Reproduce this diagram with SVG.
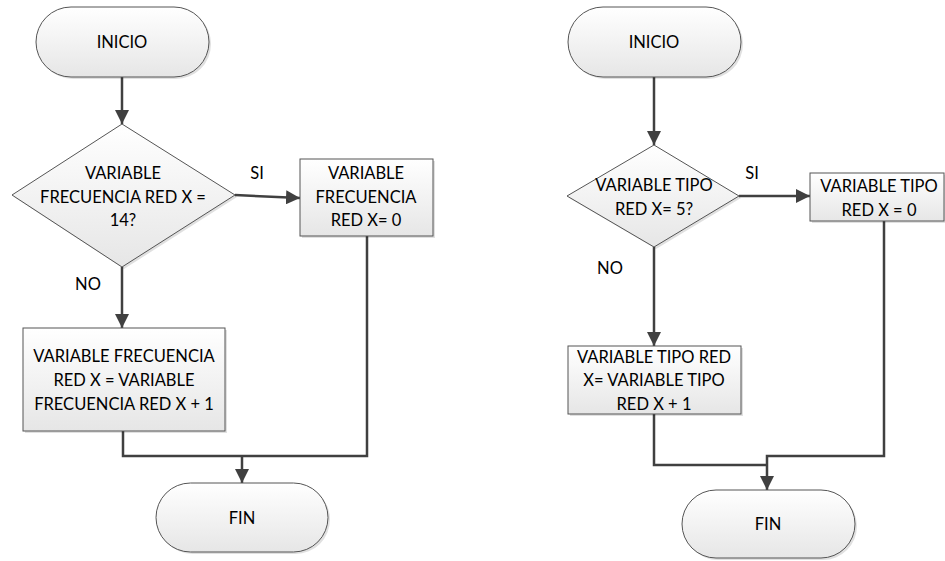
<svg xmlns="http://www.w3.org/2000/svg" width="945" height="561" viewBox="0 0 945 561">
<style>
.sh{fill:#000;opacity:0.12}
.nd{fill:url(#g);stroke:#555;stroke-width:1}
.t{font-family:Lato,"Open Sans",sans-serif;font-size:16.5px;fill:#000;text-anchor:middle;dominant-baseline:central}
.c{fill:none;stroke:#404040;stroke-width:2.5}
</style>
<defs>
<linearGradient id="g" x1="0" y1="0" x2="0" y2="1">
<stop offset="0" stop-color="#ffffff"/>
<stop offset="1" stop-color="#e6e6e6"/>
</linearGradient>
<marker id="ah" viewBox="0 0 14 14" refX="14" refY="7" markerWidth="14" markerHeight="14" markerUnits="userSpaceOnUse" orient="auto">
<path d="M0,0 L14,7 L0,14 Z" fill="#404040"/>
</marker>
</defs>
<rect width="945" height="561" fill="#fff"/>
<g id="connectors">
<line class="c" x1="122" y1="77" x2="122" y2="124" marker-end="url(#ah)"/>
<line class="c" x1="235" y1="195" x2="300" y2="198" marker-end="url(#ah)"/>
<line class="c" x1="122" y1="267" x2="122" y2="328" marker-end="url(#ah)"/>
<polyline class="c" points="123,431 123,456 367,456 367,236"/>
<line class="c" x1="242" y1="456" x2="242" y2="483" marker-end="url(#ah)"/>
<line class="c" x1="654" y1="77" x2="654" y2="145" marker-end="url(#ah)"/>
<line class="c" x1="739" y1="196" x2="810" y2="196" marker-end="url(#ah)"/>
<line class="c" x1="654" y1="247" x2="654" y2="346" marker-end="url(#ah)"/>
<polyline class="c" points="654,414 654,465 768,465"/>
<polyline class="c" points="884,221 884,456 767,456 767,490" marker-end="url(#ah)"/>
</g>
<g id="l_inicio">
<rect class="sh" x="38" y="9" width="173" height="70" rx="35"/>
<rect class="nd" x="36" y="7" width="173" height="70" rx="35"/>
<text class="t" x="122" y="42">INICIO</text>
</g>
<g id="l_decision">
<polygon class="sh" points="124,126 237,197 124,269 14,197"/>
<polygon class="nd" points="122,124 235,195 122,267 12,195"/>
<text class="t" x="123" y="173">VARIABLE</text>
<text class="t" x="123" y="197">FRECUENCIA RED X =</text>
<text class="t" x="123" y="220">14?</text>
</g>
<text class="t" x="257" y="173">SI</text>
<text class="t" x="88" y="284">NO</text>
<g id="l_reset">
<rect class="sh" x="302" y="161" width="133" height="77"/>
<rect class="nd" x="300" y="159" width="133" height="77"/>
<text class="t" x="366" y="173">VARIABLE</text>
<text class="t" x="366" y="197">FRECUENCIA</text>
<text class="t" x="366" y="220">RED X= 0</text>
</g>
<g id="l_increment">
<rect class="sh" x="25" y="330" width="202" height="103"/>
<rect class="nd" x="23" y="328" width="202" height="103"/>
<text class="t" x="124" y="356">VARIABLE FRECUENCIA</text>
<text class="t" x="124" y="380">RED X = VARIABLE</text>
<text class="t" x="124" y="404">FRECUENCIA RED X + 1</text>
</g>
<g id="l_fin">
<rect class="sh" x="158" y="485" width="172" height="69" rx="34.5"/>
<rect class="nd" x="156" y="483" width="172" height="69" rx="34.5"/>
<text class="t" x="242" y="518">FIN</text>
</g>
<g id="r_inicio">
<rect class="sh" x="570" y="9" width="173" height="70" rx="35"/>
<rect class="nd" x="568" y="7" width="173" height="70" rx="35"/>
<text class="t" x="654" y="42">INICIO</text>
</g>
<g id="r_decision">
<polygon class="sh" points="656,147 741,198 656,249 569,198"/>
<polygon class="nd" points="654,145 739,196 654,247 567,196"/>
<text class="t" x="654" y="185">VARIABLE TIPO</text>
<text class="t" x="654" y="209">RED X= 5?</text>
</g>
<text class="t" x="752" y="173">SI</text>
<text class="t" x="610" y="268">NO</text>
<g id="r_reset">
<rect class="sh" x="812" y="175" width="134" height="48"/>
<rect class="nd" x="810" y="173" width="134" height="48"/>
<text class="t" x="879" y="186">VARIABLE TIPO</text>
<text class="t" x="879" y="210">RED X = 0</text>
</g>
<g id="r_increment">
<rect class="sh" x="570" y="348" width="173" height="68"/>
<rect class="nd" x="568" y="346" width="173" height="68"/>
<text class="t" x="654" y="357">VARIABLE TIPO RED</text>
<text class="t" x="654" y="380">X= VARIABLE TIPO</text>
<text class="t" x="654" y="404">RED X + 1</text>
</g>
<g id="r_fin">
<rect class="sh" x="684" y="492" width="173" height="68" rx="34"/>
<rect class="nd" x="682" y="490" width="173" height="68" rx="34"/>
<text class="t" x="768" y="524">FIN</text>
</g>
</svg>
